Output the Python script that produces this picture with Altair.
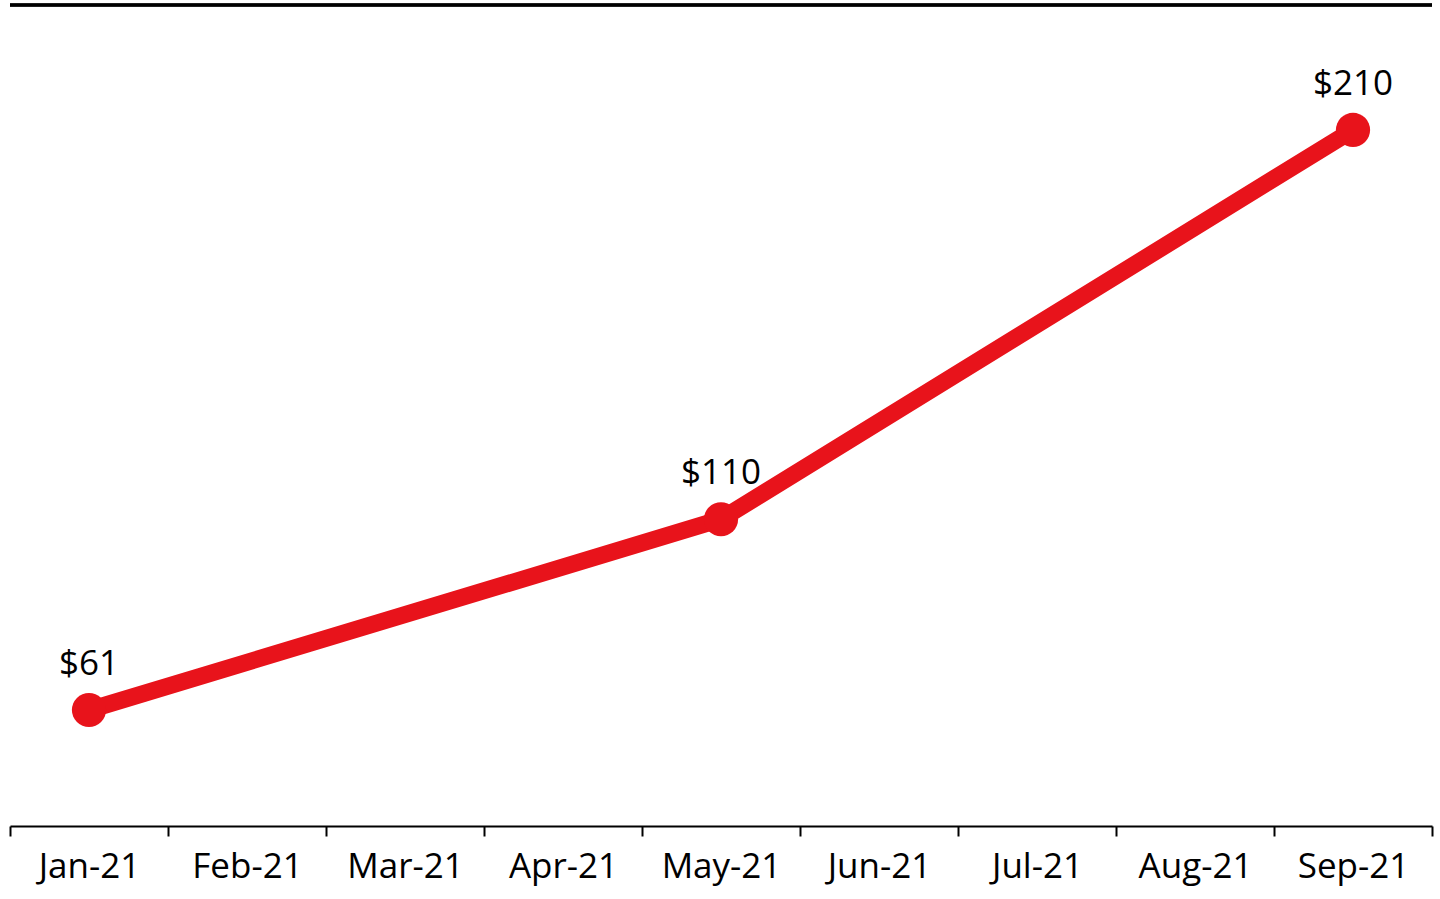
import altair as alt
import pandas as pd

months = ["Jan-21", "Feb-21", "Mar-21", "Apr-21", "May-21", "Jun-21", "Jul-21", "Aug-21", "Sep-21"]
point_months = ["Jan-21", "May-21", "Sep-21"]
point_values = [61, 110, 210]
point_labels = ["$61", "$110", "$210"]

df = pd.DataFrame({"month": point_months, "value": point_values, "label": point_labels})

FONT = "Open Sans"
RED = "#E8131B"

x = alt.X("month:N", sort=months, scale=alt.Scale(domain=months, paddingInner=0, paddingOuter=0),
          axis=alt.Axis(title=None, tickBand="extent", tickSize=10, tickColor="#000000",
                        tickWidth=2, domainColor="#000000", domainWidth=2, labelFont=FONT,
                        labelFontSize=35, labelColor="#000000", labelBaseline="alphabetic",
                        labelPadding=41, labelAngle=0, grid=False))
y = alt.Y("value:Q", scale=alt.Scale(domain=[31.2, 242.1], nice=False, zero=False), axis=None)

base = alt.Chart(df)
line = base.mark_line(color=RED, strokeWidth=17).encode(x=x, y=y)
pts = base.mark_point(filled=True, shape="circle", size=1170, color=RED, opacity=1).encode(x=x, y=y)
txt = base.mark_text(font=FONT, fontSize=35, color="#000000", baseline="alphabetic", dy=-35).encode(
    x=x, y=y, text="label:N")
top = alt.Chart(df).mark_rule(color="#000000", strokeWidth=3).encode(
    x=alt.value(0), x2=alt.value(1422), y=alt.value(0))

chart = alt.layer(line, pts, txt, top).properties(
    width=1422, height=821,
    background="#ffffff",
    autosize=alt.AutoSizeParams(type="none"),
    padding={"left": 10, "top": 5, "right": 8, "bottom": 73},
).configure_view(stroke=None)

chart.save("out.html", embed_options={"renderer": "svg", "actions": False})
